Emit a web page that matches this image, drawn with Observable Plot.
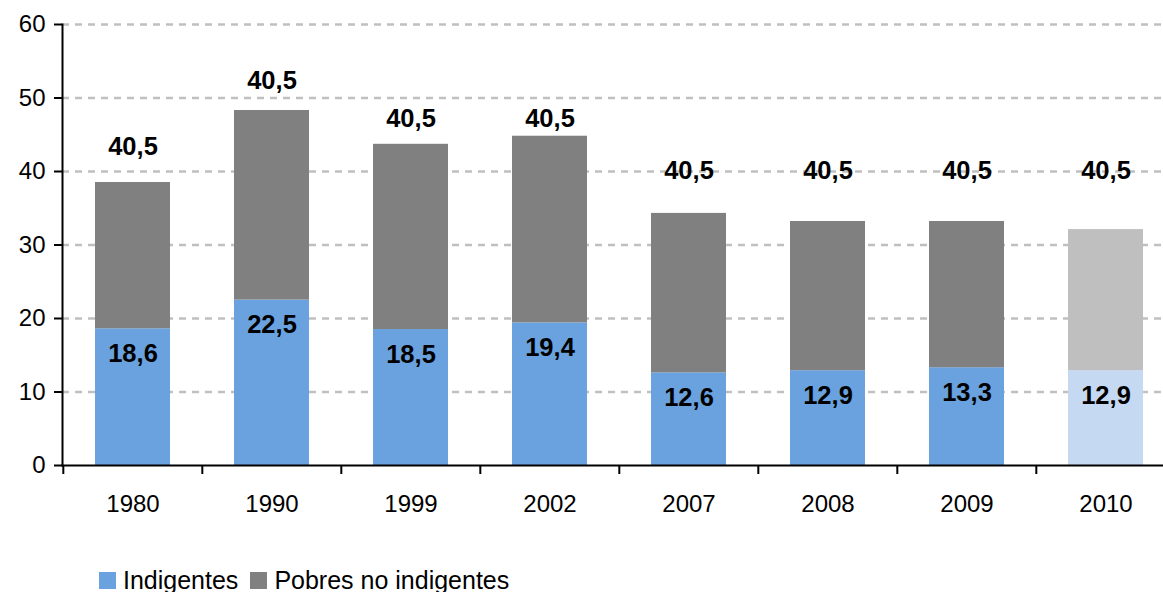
<!DOCTYPE html>
<html>
<head>
<meta charset="utf-8">
<script src="https://cdn.jsdelivr.net/npm/d3@7"></script>
<script src="https://cdn.jsdelivr.net/npm/@observablehq/plot@0.6"></script>
<style>
  body { margin: 0; background: #fff; font-family: "Liberation Sans", Arial, sans-serif; }
  #chart svg { display: block; }
  .legend { display: flex; align-items: center; height: 24px; padding-left: 99px; font-size: 25px; color: #000; }
  .legend .sw { width: 17px; height: 17px; display: inline-block; margin-right: 7px; }
  .legend .item { display: flex; align-items: center; margin-right: 12px; }
</style>
</head>
<body>
<div id="chart"></div>
<script>
const years = ["1980", "1990", "1999", "2002", "2007", "2008", "2009", "2010"];
const indigentes = [18.6, 22.5, 18.5, 19.4, 12.6, 12.9, 13.3, 12.9];
const pobresNoIndigentes = [19.9, 25.8, 25.2, 25.4, 21.7, 20.3, 19.9, 19.2];
const indigentesLabels = ["18,6", "22,5", "18,5", "19,4", "12,6", "12,9", "13,3", "12,9"];
const topLabels = ["40,5", "40,5", "40,5", "40,5", "40,5", "40,5", "40,5", "40,5"];
const topLabelAt = [43.4, 52.4, 47.1, 47.1, 40.1, 40.1, 40.1, 40.1];
const projectedYears = ["2010"];
const yTicks = [0, 10, 20, 30, 40, 50, 60];
const seriesNames = ["Indigentes", "Pobres no indigentes"];

const colors = {
  "Indigentes": {normal: "#69a2df", projected: "#c5daf2"},
  "Pobres no indigentes": {normal: "#808080", projected: "#bfbfbf"}
};

const rows = [];
years.forEach((y, i) => rows.push({year: y, series: seriesNames[0], value: indigentes[i]}));
years.forEach((y, i) => rows.push({year: y, series: seriesNames[1], value: pobresNoIndigentes[i]}));
const fillOf = d => colors[d.series][projectedYears.includes(d.year) ? "projected" : "normal"];

const labelRows = years.map((y, i) => ({year: y, inner: indigentesLabels[i], innerAt: indigentes[i], top: topLabels[i], topAt: topLabelAt[i]}));

const W = 1163, H = 568, ML = 62, MT = 24, MB = 103;
const xRange = [ML, 1177];
const step = (xRange[1] - xRange[0]) / years.length;

const plot = Plot.plot({
  width: W,
  height: H,
  marginLeft: ML,
  marginRight: 0,
  marginTop: MT,
  marginBottom: MB,
  style: {fontFamily: "'Liberation Sans', Arial, sans-serif", fontSize: "24px", color: "#000", background: "#fff"},
  x: {domain: years, range: xRange, paddingInner: 0.46, paddingOuter: 0.23, label: null},
  y: {domain: [0, 60], label: null},
  color: {type: "identity"},
  marks: [
    Plot.ruleY(yTicks.filter(t => t > 0), {y: d => d, stroke: "#c0c0c0", strokeWidth: 2.5, strokeDasharray: "7,6"}),
    Plot.barY(rows, {x: "year", y: "value", z: "series", order: seriesNames, fill: fillOf}),
    Plot.frame({anchor: "left", stroke: "#000", strokeWidth: 2}),
    Plot.frame({anchor: "bottom", stroke: "#000", strokeWidth: 2}),
    Plot.ruleX(years, {x: d => d, y1: 0, y2: 0, dx: -step / 2, insetBottom: -9, stroke: "#000", strokeWidth: 2}),
    Plot.axisY({ticks: yTicks, tickSize: 8, tickPadding: 9, tickFormat: d => String(d), stroke: "#000", strokeWidth: 2, strokeOpacity: 1, fontSize: 24}),
    Plot.axisX({tickSize: 0, tickPadding: 29, fontSize: 24}),
    Plot.text(labelRows, {x: "year", y: "innerAt", text: "inner", dy: 25, fontWeight: "bold", fontSize: 25.5, fill: "#000", lineAnchor: "middle"}),
    Plot.text(labelRows, {x: "year", y: "topAt", text: "top", fontWeight: "bold", fontSize: 25.5, fill: "#000", lineAnchor: "middle"})
  ]
});
document.getElementById("chart").appendChild(plot);

const legend = document.createElement("div");
legend.className = "legend";
seriesNames.forEach(s => {
  const item = document.createElement("span");
  item.className = "item";
  const sw = document.createElement("span");
  sw.className = "sw";
  sw.style.background = colors[s].normal;
  item.appendChild(sw);
  item.appendChild(document.createTextNode(s));
  legend.appendChild(item);
});
document.body.appendChild(legend);
</script>
</body>
</html>
